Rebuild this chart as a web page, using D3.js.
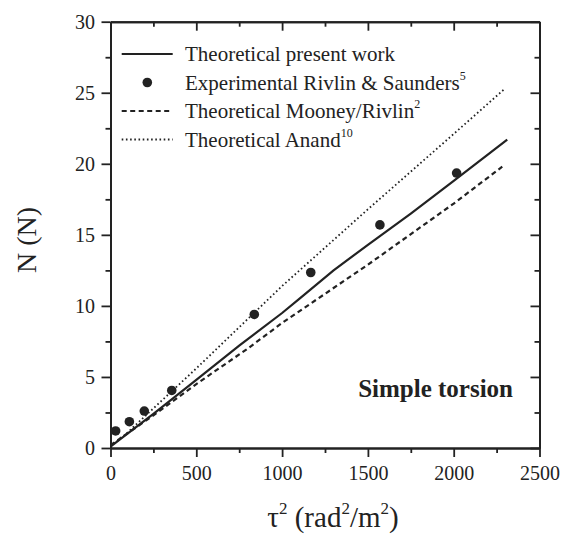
<!DOCTYPE html>
<html>
<head>
<meta charset="utf-8">
<script src="https://cdn.jsdelivr.net/npm/d3@7"></script>
<style>
  html, body { margin: 0; padding: 0; background: #fff; }
  svg text { font-family: "Liberation Serif", "Times New Roman", serif; fill: #222; }
</style>
</head>
<body>
<div id="chart"></div>
<script>
"use strict";

/* ── Data ── */
const expTau2   = [30, 110, 197, 357, 838, 1167, 1570, 2017];
const expN      = [1.2, 1.85, 2.6, 4.05, 9.4, 12.35, 15.7, 19.35];

const presentTau2 = [0, 250, 500, 750, 1000, 1100, 1300, 1500, 1750, 2000, 2312];
const presentN    = [0.1, 2.4, 4.8, 7.2, 9.5, 10.5, 12.5, 14.3, 16.5, 18.8, 21.7];

const mooneyTau2 = [0, 250, 500, 800, 1000, 1500, 2000, 2283];
const mooneyN    = [0.2, 2.3, 4.5, 7.0, 8.8, 12.9, 17.2, 19.8];

const anandTau2 = [0, 100, 500, 1000, 1500, 2000, 2290];
const anandN    = [0.1, 1.1, 5.6, 11.4, 16.8, 22.1, 25.2];

const xMajor = [0, 500, 1000, 1500, 2000, 2500];
const yMajor = [0, 5, 10, 15, 20, 25, 30];

/* ── Dimensions ── */
const W = 566, H = 538;
const plotL = 110.5, plotR = 539.5, plotT = 21.7, plotB = 448;
const serif = "'Liberation Serif', 'Times New Roman', serif";

const x = d3.scaleLinear().domain([0, 2500]).range([plotL, plotR]);
const y = d3.scaleLinear().domain([0, 30]).range([plotB, plotT]);

const xMinor = d3.range(0, 2501, 250).filter(v => !xMajor.includes(v));
const yMinor = d3.range(0, 30.01, 2.5).filter(v => !yMajor.includes(v));

const svg = d3.select("#chart").append("svg")
  .attr("width", W).attr("height", H)
  .style("font-family", serif);

/* ── Axes ── */
function styleAxis(g) {
  g.attr("font-family", serif).style("font-family", serif);
  g.select(".domain").attr("stroke", "#222").attr("stroke-width", 2);
  g.selectAll(".tick line").attr("stroke", "#222").attr("stroke-width", 1.8);
  g.selectAll(".tick text").attr("font-size", "20px").attr("fill", "#222")
    .style("font-family", serif);
}

const fmt = d3.format("d");

// bottom: major + minor, outward
svg.append("g").attr("transform", `translate(0,${plotB})`)
  .call(d3.axisBottom(x).tickValues(xMajor).tickFormat(fmt).tickSize(9).tickPadding(9).tickSizeOuter(0))
  .call(styleAxis);
svg.append("g").attr("transform", `translate(0,${plotB})`)
  .call(d3.axisBottom(x).tickValues(xMinor).tickSize(5).tickFormat("").tickSizeOuter(0))
  .call(styleAxis);

// left: major + minor, outward
svg.append("g").attr("transform", `translate(${plotL},0)`)
  .call(d3.axisLeft(y).tickValues(yMajor).tickFormat(fmt).tickSize(9).tickPadding(6.5).tickSizeOuter(0))
  .call(styleAxis);
svg.append("g").attr("transform", `translate(${plotL},0)`)
  .call(d3.axisLeft(y).tickValues(yMinor).tickSize(5).tickFormat("").tickSizeOuter(0))
  .call(styleAxis);

// top: inward ticks, no labels
svg.append("g").attr("transform", `translate(0,${plotT})`)
  .call(d3.axisTop(x).tickValues(xMajor).tickSize(-9).tickFormat("").tickSizeOuter(0))
  .call(styleAxis);
svg.append("g").attr("transform", `translate(0,${plotT})`)
  .call(d3.axisTop(x).tickValues(xMinor).tickSize(-5).tickFormat("").tickSizeOuter(0))
  .call(styleAxis);

// right: inward ticks, no labels
svg.append("g").attr("transform", `translate(${plotR},0)`)
  .call(d3.axisRight(y).tickValues(yMajor).tickSize(-9).tickFormat("").tickSizeOuter(0))
  .call(styleAxis);
svg.append("g").attr("transform", `translate(${plotR},0)`)
  .call(d3.axisRight(y).tickValues(yMinor).tickSize(-5).tickFormat("").tickSizeOuter(0))
  .call(styleAxis);

/* ── Lines ── */
const line = d3.line().x(d => x(d[0])).y(d => y(d[1]));
const zip = (a, b) => a.map((v, i) => [v, b[i]]);

const series = [
  { pts: zip(presentTau2, presentN), dash: null,      width: 2.2 },
  { pts: zip(mooneyTau2, mooneyN),   dash: "5,3.5",   width: 2.2 },
  { pts: zip(anandTau2, anandN),     dash: "1.6,2.6", width: 1.8 },
];

series.forEach(s => {
  svg.append("path")
    .attr("d", line(s.pts))
    .attr("fill", "none")
    .attr("stroke", "#222")
    .attr("stroke-width", s.width)
    .attr("stroke-dasharray", s.dash);
});

/* ── Experimental points ── */
svg.selectAll("circle.exp")
  .data(zip(expTau2, expN))
  .join("circle")
  .attr("class", "exp")
  .attr("cx", d => x(d[0]))
  .attr("cy", d => y(d[1]))
  .attr("r", 4.8)
  .attr("fill", "#222");

/* ── Legend ── */
const legendRows = [
  { kind: "line", dash: null,      width: 2.2, text: "Theoretical present work", sup: "" },
  { kind: "dot",  dash: null,      width: 0,   text: "Experimental Rivlin & Saunders", sup: "5" },
  { kind: "line", dash: "5,3.5",   width: 2.2, text: "Theoretical Mooney/Rivlin", sup: "2" },
  { kind: "line", dash: "1.6,2.6", width: 1.8, text: "Theoretical Anand", sup: "10" },
];

const legend = svg.append("g");
legendRows.forEach((d, i) => {
  const cy = 54 + i * 28.5;
  if (d.kind === "line") {
    legend.append("line")
      .attr("x1", 121.7).attr("x2", 172.7)
      .attr("y1", cy).attr("y2", cy)
      .attr("stroke", "#222")
      .attr("stroke-width", d.width)
      .attr("stroke-dasharray", d.dash);
  } else {
    legend.append("circle").attr("cx", 147.3).attr("cy", cy).attr("r", 4.8).attr("fill", "#222");
  }
  const t = legend.append("text")
    .attr("x", 185).attr("y", cy + 7)
    .attr("font-size", "21px")
    .text(d.text);
  if (d.sup) {
    t.append("tspan").attr("dy", -10).attr("font-size", "12px").text(d.sup);
  }
});

/* ── Annotation ── */
svg.append("text")
  .attr("x", 513).attr("y", 397)
  .attr("text-anchor", "end")
  .attr("font-size", "25px")
  .attr("font-weight", "bold")
  .text("Simple torsion");

/* ── Axis titles ── */
svg.append("text")
  .attr("transform", `translate(36,240) rotate(-90)`)
  .attr("text-anchor", "middle")
  .attr("font-size", "28px")
  .text("N (N)");

const xt = svg.append("text")
  .attr("x", 333).attr("y", 527)
  .attr("text-anchor", "middle")
  .attr("font-size", "29px");
xt.append("tspan").text("τ");
xt.append("tspan").attr("dy", -13).attr("font-size", "17px").text("2");
xt.append("tspan").attr("dy", 13).text(" (rad");
xt.append("tspan").attr("dy", -13).attr("font-size", "17px").text("2");
xt.append("tspan").attr("dy", 13).text("/m");
xt.append("tspan").attr("dy", -13).attr("font-size", "17px").text("2");
xt.append("tspan").attr("dy", 13).text(")");
</script>
</body>
</html>
